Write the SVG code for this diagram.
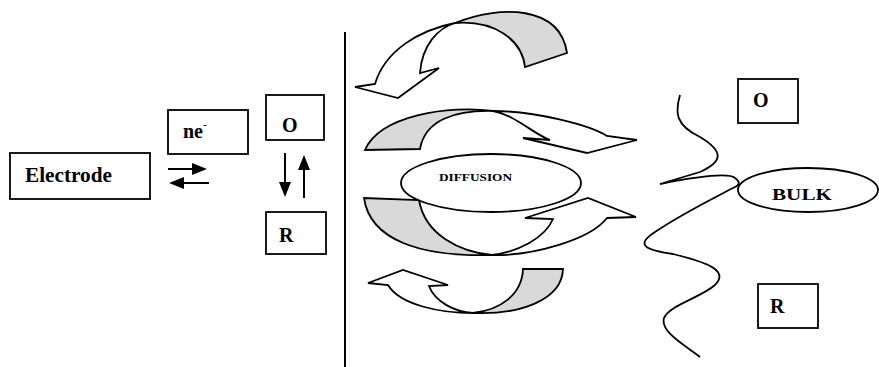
<svg xmlns="http://www.w3.org/2000/svg" width="879" height="367" viewBox="0 0 879 367">
<style>
.box{fill:#fff;stroke:#000;stroke-width:1.8}
.lbl{font-family:"Liberation Serif","Times New Roman",serif;font-weight:bold;fill:#000}
.band{fill:#fff;stroke:#000;stroke-width:1.8;stroke-linejoin:miter}
.back{fill:#d9d9d9;stroke:#000;stroke-width:1.8}
.conn{stroke:#000;stroke-width:2;fill:none}
.oval{fill:#fff;stroke:#000;stroke-width:1.8}
</style>
<defs>
<marker id="ah" viewBox="0 0 15 12" refX="7" refY="6" markerWidth="15" markerHeight="12" markerUnits="userSpaceOnUse" orient="auto">
<path d="M0,0 L15,6 L0,12 Z" fill="#000"/>
</marker>
</defs>
<rect width="879" height="367" fill="#fff"/>

<line id="interface" x1="345" y1="32" x2="345" y2="367" stroke="#000" stroke-width="2"/>

<g id="curved-arrows">
<g id="arrow-top">
<path class="back" d="M455,23 C500,5 560,5 567,53 L525,67 C522,40 495,20 455,23 Z"/>
<path class="band" d="M375,84 C385,50 420,30 455,23 C438,28 422,45 420,73 L439,68 L398,98 L355,87 Z"/>
</g>
<g id="arrow-upper">
<path class="back" d="M365,150 C380,115 450,105 493,111 C455,110 425,120 420,149 Z"/>
<path class="band" d="M493,111 C535,111 590,125 607,136 L637,140 L587,153 L523,138 L550,140 C535,135 515,115 493,111 Z"/>
</g>
<g id="arrow-lower">
<path class="back" d="M364,198 C370,240 420,257 492,255 C460,252 425,235 419,200 Z"/>
<path class="band" d="M492,255 C532,256 590,240 607,218 L636,217 L588,198 L525,218 L553,219 C545,238 518,252 492,255 Z"/>
</g>
<g id="arrow-bottom">
<path class="back" d="M523,269 L563,269 C562,300 520,315 473,313 C500,310 522,295 523,269 Z"/>
<path class="band" d="M473,313 C440,313 400,305 388,285 L368,283 L403,270 L448,285 L429,286 C435,302 455,312 473,313 Z"/>
</g>
</g>

<path id="diffusion-layer-edge" d="M680,95 C675,112 675,125 700,137 C725,152 722,162 700,172 L660,184 C690,178 728,172 735,178 C742,183 738,186 733,188 C710,200 680,215 655,232 C635,245 645,250 673,254 C705,262 730,270 715,285 C700,298 670,305 664,318 C660,332 685,345 700,357" fill="none" stroke="#000" stroke-width="1.8"/>

<g id="electrode">
<rect class="box" x="10" y="153" width="140" height="46"/>
<text class="lbl" x="25" y="182" font-size="20" textLength="87" lengthAdjust="spacingAndGlyphs">Electrode</text>
</g>
<g id="electrons">
<rect class="box" x="168" y="110" width="80" height="44"/>
<text class="lbl" x="183" y="138" font-size="20">ne<tspan dy="-10" font-size="11">-</tspan></text>
</g>
<g id="O-surface">
<rect class="box" x="266" y="95" width="58" height="45"/>
<text class="lbl" x="282" y="132" font-size="20">O</text>
</g>
<g id="R-surface">
<rect class="box" x="266" y="212" width="60" height="42"/>
<text class="lbl" x="279" y="242" font-size="20">R</text>
</g>
<g id="diffusion">
<ellipse class="oval" cx="491" cy="183" rx="90" ry="29"/>
<text class="lbl" x="439" y="181" font-size="11" textLength="73" lengthAdjust="spacingAndGlyphs">DIFFUSION</text>
</g>
<g id="bulk">
<ellipse class="oval" cx="808" cy="190" rx="70" ry="22"/>
<text class="lbl" x="772" y="200" font-size="17.5" textLength="60" lengthAdjust="spacingAndGlyphs">BULK</text>
</g>
<g id="O-bulk">
<rect class="box" x="738" y="79" width="60" height="44"/>
<text class="lbl" x="753" y="107" font-size="20">O</text>
</g>
<g id="R-bulk">
<rect class="box" x="758" y="284" width="60" height="44"/>
<text class="lbl" x="770" y="313" font-size="20">R</text>
</g>

<g id="connectors">
<line class="conn" x1="168" y1="169" x2="199" y2="169" marker-end="url(#ah)"/>
<line class="conn" x1="209" y1="183" x2="177" y2="183" marker-end="url(#ah)"/>
<line class="conn" x1="285" y1="153" x2="285" y2="189" marker-end="url(#ah)"/>
<line class="conn" x1="304" y1="198" x2="304" y2="163" marker-end="url(#ah)"/>
</g>
</svg>
